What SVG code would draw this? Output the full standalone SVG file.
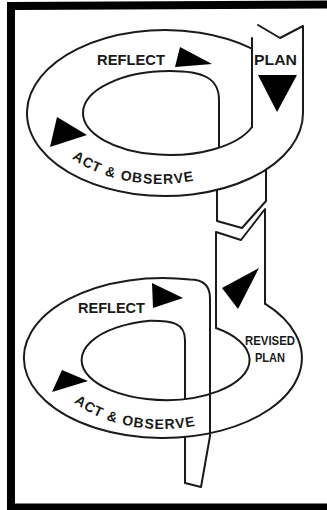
<svg xmlns="http://www.w3.org/2000/svg" width="327" height="510" viewBox="0 0 327 510">
<style>
.ln{fill:none;stroke:#1a1a1a;stroke-width:2;stroke-linejoin:round;stroke-linecap:round}
.ar{fill:#000}
.lb{font-family:"Liberation Sans",Arial,sans-serif;font-weight:bold;fill:#1a1a1a}
</style>
<defs>
<path id="ao1" d="M 72 158.3 A 115 72 0 0 0 230 169.1"/>
<path id="ao2" d="M 74 402.2 A 113 72 0 0 0 230 414.5"/>
</defs>
<rect width="327" height="510" fill="#fff"/>
<g id="frame">
<polygon points="7,2 327,0.5 327,8.5 15,10" fill="#000"/>
<rect x="7" y="2" width="8" height="508" fill="#000"/>
<rect x="7" y="503.5" width="320" height="6.5" fill="#000"/>
</g>
<g id="connectors">
<path class="ln" d="M 217 190 L 217 221 L 242 228 L 266 201 L 266 170"/>
<path class="ln" d="M 216 328 L 216 232 L 241 240 L 265 209 L 265 303.7"/>
</g>
<g id="cycle1">
<path class="ln" d="M 252 48.6 A 138 83 0 1 0 303 113 L 303 26 L 280 38 L 258 25"/>
<path class="ln" d="M 252 38 L 252 127"/>
<path class="ln" d="M 252 127 A 87 42 0 0 1 83 113 C 83 89.8 122 71 170 71 C 203 71 219 78 219 100 L 219 147.7"/>
<polygon class="ar" points="180,47 175,67 212,64"/>
<polygon class="ar" points="258,75 297,75 277,112"/>
<polygon class="ar" points="57,117 50,147 87,135"/>
<text class="lb" x="97" y="65" font-size="15" textLength="68" lengthAdjust="spacingAndGlyphs">REFLECT</text>
<text class="lb" x="254" y="65" font-size="14" textLength="43" lengthAdjust="spacingAndGlyphs">PLAN</text>
<text class="lb" font-size="14" letter-spacing="1"><textPath href="#ao1">ACT &amp; OBSERVE</textPath></text>
</g>
<g id="cycle2">
<path class="ln" d="M 265 303.7 A 139 80 0 1 1 190 279.5 C 202 279.5 210 284 210 298 L 210 436 L 201 487 L 185 483 L 185 437"/>
<path class="ln" d="M 216 328 A 84 40 0 1 1 150 320.7 C 172 320.5 185 323 185 340 L 185 399"/>
<polygon class="ar" points="152,283 153,308 183,298"/>
<polygon class="ar" points="222,288 259,268 238,309"/>
<polygon class="ar" points="62,370 52,392 88,381"/>
<text class="lb" x="78" y="313" font-size="15" textLength="67" lengthAdjust="spacingAndGlyphs">REFLECT</text>
<text class="lb" x="245" y="345" font-size="12" textLength="50" lengthAdjust="spacingAndGlyphs">REVISED</text>
<text class="lb" x="255" y="362" font-size="12" textLength="30" lengthAdjust="spacingAndGlyphs">PLAN</text>
<text class="lb" font-size="14" letter-spacing="1"><textPath href="#ao2">ACT &amp; OBSERVE</textPath></text>
</g>
</svg>
